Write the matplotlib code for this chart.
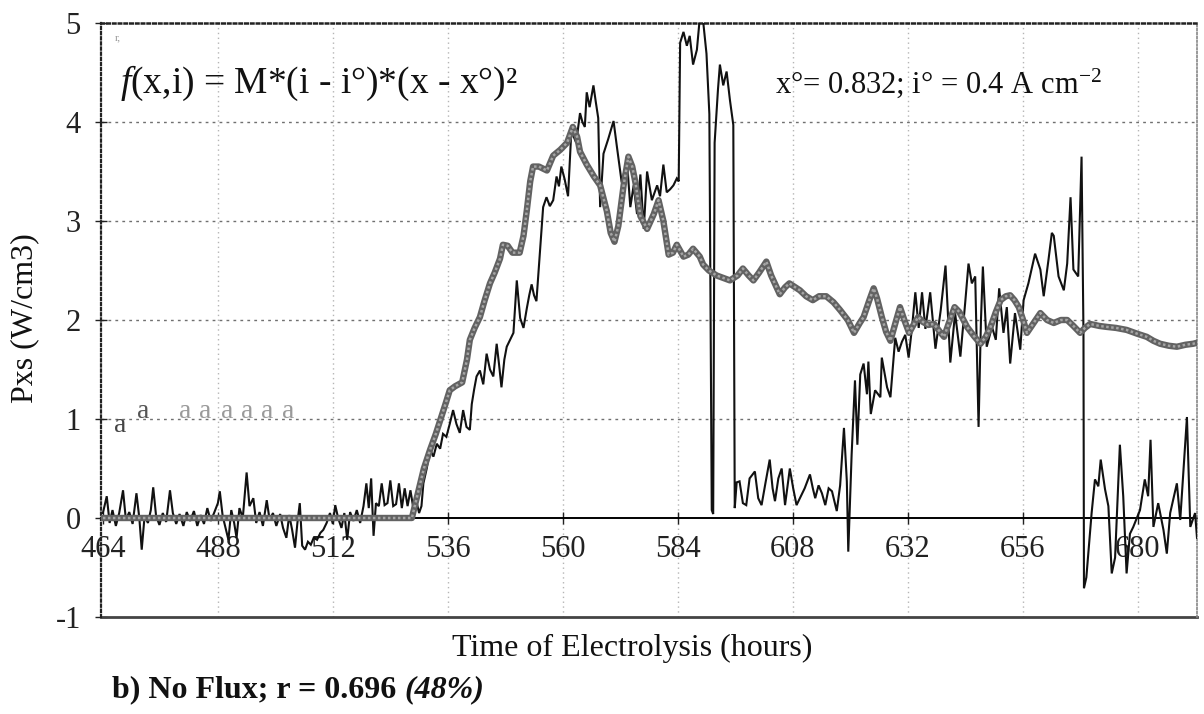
import matplotlib
matplotlib.use("Agg")
import matplotlib.pyplot as plt

plt.rcParams['font.family'] = ['Liberation Serif', 'DejaVu Serif']
plt.rcParams['mathtext.fontset'] = 'custom'
plt.rcParams['mathtext.rm'] = 'Liberation Serif'
plt.rcParams['mathtext.it'] = 'Liberation Serif:italic'

# ---------------- data ----------------
x_ticks = [464, 488, 512, 536, 560, 584, 608, 632, 656, 680]
y_ticks = [-1, 0, 1, 2, 3, 4, 5]

# measured excess power (black, noisy)
meas_t = [464.0, 464.8, 465.4, 466.0, 466.7, 467.4, 468.2, 468.8, 469.5, 470.2, 471.0, 471.6,
          472.1, 472.7, 473.4, 474.0, 474.5, 475.1, 475.8, 476.5, 477.2, 478.0, 478.6, 479.3,
          480.0, 480.8, 481.5, 482.2, 483.0, 483.7, 484.4, 485.1, 485.8, 486.5, 487.2, 488.0,
          488.4, 489.0, 489.6, 490.2, 490.8, 491.4, 491.9, 492.5, 493.2, 494.0, 494.6, 495.4,
          496.0, 496.7, 497.4, 498.2, 498.8, 499.5, 500.2, 501.0, 501.6, 502.3, 502.9, 503.5,
          504.1, 504.6, 505.1, 505.6, 506.2, 506.8, 507.4, 508.0, 508.7, 509.4, 510.0, 510.7,
          511.4, 512.0, 512.5, 513.1, 513.8, 514.4, 515.0, 515.6, 516.3, 517.0, 517.7, 518.4,
          519.0, 519.5, 520.0, 520.5, 521.0, 521.6, 522.2, 522.8, 523.4, 524.0, 524.6, 525.2,
          525.8, 526.4, 527.0, 527.6, 528.2, 528.8, 529.4, 530.0, 530.5, 530.9, 531.6, 532.3,
          533.0, 533.7, 534.4, 535.0, 535.7, 536.4, 537.1, 537.8, 538.5, 539.2, 539.9, 540.6,
          541.0, 541.5, 542.0, 542.7, 543.4, 544.1, 544.8, 545.5, 546.2, 546.7, 547.2, 547.8,
          548.3, 549.0, 549.7, 550.4, 551.1, 551.8, 552.5, 553.0, 553.5, 554.0, 554.5, 555.2,
          555.9, 556.6, 557.3, 558.0, 558.7, 559.2, 559.7, 560.4, 561.1, 561.8, 562.3, 562.8,
          563.6, 564.1, 564.6, 565.0, 565.6, 566.4, 566.9, 567.4, 567.8, 568.5, 569.5, 570.6,
          571.3, 572.3, 573.4, 574.1, 574.8, 575.5, 576.2, 576.9, 577.6, 578.6, 579.7, 580.3,
          581.0, 581.7, 582.4, 583.1, 583.8, 584.2, 584.5, 585.2, 585.9, 586.5, 587.2, 588.0,
          588.6, 589.3, 590.0, 590.6, 591.1, 591.4, 591.7, 592.4, 592.8, 593.5, 594.2, 594.9,
          595.6, 595.9, 596.3, 596.9, 597.6, 598.3, 599.0, 600.1, 600.8, 601.5, 602.3, 603.2,
          603.8, 604.3, 605.0, 605.7, 606.4, 607.4, 608.1, 608.8, 609.5, 610.5, 611.6, 612.2,
          612.7, 613.4, 614.1, 614.8, 615.5, 616.2, 617.2, 617.9, 618.7, 619.3, 619.6, 620.3,
          621.0, 621.5, 622.1, 622.8, 623.5, 623.8, 624.3, 625.2, 626.3, 626.6, 627.7, 628.4,
          629.4, 630.1, 630.8, 631.5, 632.2, 632.9, 633.6, 634.3, 635.0, 635.7, 636.7, 637.8,
          638.9, 639.9, 640.9, 641.9, 643.0, 644.0, 644.7, 645.4, 646.1, 646.8, 647.3, 647.7,
          648.5, 649.6, 650.4, 651.1, 652.0, 652.7, 653.4, 654.4, 655.5, 656.2, 657.2, 658.6,
          659.7, 660.4, 661.4, 662.1, 662.5, 663.5, 664.6, 665.3, 666.0, 666.6, 667.6, 668.3,
          668.7, 668.8, 669.3, 670.4, 671.1, 671.8, 672.3, 673.2, 673.9, 674.6, 675.3, 676.3,
          677.0, 677.7, 678.4, 679.1, 680.5, 681.5, 682.2, 682.7, 683.3, 684.3, 685.4, 686.1,
          686.8, 688.2, 688.9, 690.3, 691.0, 692.0, 692.4]
meas_p = [0.05, 0.22, -0.05, 0.08, -0.08, 0.05, 0.28, -0.02, 0.06, -0.06, 0.25, 0.0,
          -0.32, 0.02, -0.05, 0.08, 0.31, 0.02, -0.07, 0.05, -0.04, 0.28, 0.05, -0.06,
          0.04, -0.08, 0.06, -0.03, 0.07, -0.08, 0.03, -0.06, 0.10, -0.03, 0.05, 0.15,
          0.27, 0.02, -0.10, -0.22, 0.08, -0.05, -0.20, 0.10, 0.0, 0.46, 0.12, 0.20,
          -0.05, 0.06, -0.08, 0.18, -0.02, 0.05, -0.08, 0.04, -0.10, -0.20, 0.03, -0.12,
          -0.30, -0.05, 0.15, -0.28, -0.32, -0.24, -0.27, -0.20, -0.22, -0.15, -0.12, -0.05,
          0.05, -0.06, 0.13, 0.0, -0.10, 0.05, -0.22, 0.06, -0.03, 0.08, -0.05, 0.12,
          0.35, 0.10, 0.40, -0.18, 0.15, 0.12, 0.35, 0.13, 0.15, 0.38, 0.12, 0.14,
          0.35, 0.10, 0.30, 0.12, 0.28, 0.10, 0.18, 0.05, 0.12, 0.35, 0.50, 0.69,
          0.62, 0.75, 0.70, 0.85, 0.82, 0.95, 1.09, 0.95, 0.86, 1.09, 0.92, 0.89,
          1.15, 1.30, 1.43, 1.49, 1.35, 1.66, 1.50, 1.43, 1.76, 1.55, 1.32, 1.60,
          1.73, 1.80, 1.87, 2.40, 2.02, 1.92, 2.12, 2.25, 2.36, 2.25, 2.19, 2.67,
          3.14, 3.24, 3.15, 3.21, 3.45, 3.35, 3.55, 3.42, 3.25, 3.92, 3.85, 3.79,
          4.09, 4.00, 3.95, 4.30, 4.15, 4.37, 4.20, 4.04, 3.14, 3.68, 3.83, 4.01,
          3.75, 3.39, 3.61, 3.14, 3.36, 3.07, 3.47, 2.92, 3.50, 3.21, 3.36, 3.25,
          3.57, 3.29, 3.32, 3.36, 3.43, 3.40, 4.80, 4.91, 4.77, 4.87, 4.58, 4.73,
          5.05, 5.02, 4.69, 4.08, 0.08, 0.04, 3.79, 4.33, 4.58, 4.37, 4.51, 4.22,
          3.97, 0.10, 0.36, 0.37, 0.15, 0.13, 0.40, 0.47, 0.20, 0.13, 0.35, 0.59,
          0.30, 0.17, 0.40, 0.50, 0.13, 0.50, 0.30, 0.13, 0.20, 0.30, 0.44, 0.30,
          0.20, 0.33, 0.25, 0.13, 0.30, 0.27, 0.07, 0.33, 0.91, 0.37, -0.34, 0.64,
          1.39, 0.74, 1.45, 1.56, 1.25, 1.58, 1.05, 1.29, 1.22, 1.62, 1.32, 1.22,
          1.82, 1.68, 1.78, 1.85, 1.62, 1.92, 2.28, 1.92, 2.28, 1.91, 2.28, 1.71,
          2.10, 2.55, 1.57, 2.07, 1.63, 2.17, 2.57, 2.37, 2.44, 0.92, 2.00, 2.54,
          1.73, 1.93, 1.80, 2.32, 1.87, 2.13, 1.56, 2.07, 1.70, 2.20, 2.37, 2.67,
          2.51, 2.24, 2.61, 2.88, 2.85, 2.44, 2.30, 2.57, 3.24, 2.51, 2.44, 3.65,
          1.87, -0.71, -0.60, 0.05, 0.39, 0.32, 0.59, 0.29, 0.12, -0.56, -0.40, 0.74,
          0.22, -0.56, -0.16, -0.09, 0.08, 0.39, 0.22, 0.79, -0.09, 0.15, -0.12, -0.36,
          0.05, 0.35, -0.02, 1.02, -0.09, 0.05, -0.20]

# model f(x,i) (thick grey)
model_t = [464.0, 528.5, 530.0, 531.0, 532.3, 533.5, 534.5, 535.5, 536.4, 537.5, 539.0, 540.0,
           540.6, 541.6, 542.7, 543.7, 544.8, 545.8, 546.9, 547.5, 548.5, 549.5, 551.0, 551.8,
           552.5, 553.2, 553.8, 555.0, 556.7, 558.0, 559.5, 560.9, 562.1, 563.0, 563.6, 565.0,
           566.5, 567.8, 569.2, 570.0, 570.8, 571.6, 572.7, 573.7, 574.5, 575.2, 576.2, 577.6,
           579.0, 580.0, 581.0, 582.1, 583.0, 583.8, 585.2, 586.2, 587.2, 588.6, 589.3, 590.5,
           592.1, 594.9, 596.5, 597.6, 598.8, 599.8, 601.0, 602.5, 603.5, 605.3, 606.4, 607.3,
           609.5, 610.8, 612.2, 613.5, 615.0, 616.5, 617.9, 619.5, 620.8, 622.0, 622.8, 624.0,
           624.9, 625.6, 626.6, 627.5, 628.4, 629.5, 630.4, 631.3, 632.3, 633.2, 634.2, 635.2,
           636.3, 637.5, 638.9, 639.6, 640.6, 641.8, 642.8, 644.4, 645.8, 647.2, 648.3, 649.3,
           650.4, 651.4, 652.5, 653.4, 654.3, 655.2, 656.1, 656.9, 658.3, 659.7, 661.1, 662.5,
           664.0, 665.3, 666.6, 668.0, 669.0, 670.1, 672.0, 673.6, 675.5, 677.7, 680.0, 681.9,
           683.3, 684.7, 686.5, 688.2, 690.0, 691.6, 692.4]
model_p = [0.0, 0.0, 0.30, 0.50, 0.69, 0.85, 1.00, 1.15, 1.29, 1.33, 1.37, 1.60,
           1.80, 1.92, 2.03, 2.20, 2.37, 2.48, 2.62, 2.76, 2.75, 2.68, 2.68, 2.85,
           3.11, 3.40, 3.55, 3.55, 3.51, 3.66, 3.72, 3.79, 3.95, 3.85, 3.70, 3.57,
           3.45, 3.36, 3.10, 2.88, 2.79, 2.95, 3.36, 3.65, 3.55, 3.38, 3.05, 2.92,
           3.07, 3.21, 3.00, 2.66, 2.68, 2.76, 2.64, 2.66, 2.72, 2.64, 2.56, 2.50,
           2.45, 2.40, 2.45, 2.52, 2.45, 2.40, 2.48, 2.59, 2.45, 2.26, 2.33, 2.37,
           2.30, 2.24, 2.20, 2.24, 2.24, 2.18, 2.10, 2.00, 1.87, 1.97, 2.03, 2.20,
           2.32, 2.22, 2.03, 1.88, 1.79, 1.98, 2.13, 2.00, 1.87, 1.95, 2.03, 1.98,
           1.95, 1.96, 1.87, 1.83, 1.97, 2.13, 2.08, 1.93, 1.84, 1.76, 1.83, 1.93,
           2.08, 2.20, 2.24, 2.25, 2.20, 2.13, 2.00, 1.87, 1.97, 2.07, 2.00, 1.97,
           2.00, 2.00, 1.94, 1.87, 1.92, 1.96, 1.94, 1.93, 1.92, 1.90, 1.86, 1.83,
           1.79, 1.76, 1.74, 1.73, 1.75, 1.76, 1.77]

# ---------------- figure ----------------
W, H = 1204, 714
fig = plt.figure(figsize=(W / 100, H / 100), dpi=100)
ax = fig.add_axes([101 / W, 1 - 617 / H, (1197 - 101) / W, (617 - 23) / H])
ax.set_xlim(463.6, 692.4)
ax.set_ylim(-1, 5)

# grid
for xt in x_ticks[1:]:
    ax.axvline(xt, color='#b5b5b5', lw=1.0, ls=(0, (1, 2.5)), zorder=1)
for yt in y_ticks[2:-1]:
    ax.axhline(yt, color='#707070', lw=1.0, ls=(0, (2, 3)), zorder=1)

# spines
ax.spines['bottom'].set_position(('data', 0))
ax.spines['bottom'].set_color('black')
ax.spines['bottom'].set_linewidth(1.4)
ax.spines['bottom'].set_zorder(2)
ax.spines['top'].set_linestyle((0, (1, 1.3)))
ax.spines['top'].set_linewidth(1.8)
ax.spines['top'].set_color('#222222')
ax.spines['left'].set_linestyle((0, (1, 1.3)))
ax.spines['left'].set_linewidth(1.6)
ax.spines['left'].set_color('#222222')
ax.spines['right'].set_linestyle((0, (1, 1.3)))
ax.spines['right'].set_linewidth(1.2)
ax.spines['right'].set_color('#888888')
ax.axhline(-1, color='#444444', lw=2.0, zorder=2, clip_on=False)

ax.set_xticks(x_ticks)
ax.set_xticklabels([str(v) for v in x_ticks])
ax.set_yticks(y_ticks)
ax.set_yticklabels([str(v) for v in y_ticks])
ax.tick_params(axis='x', direction='inout', length=8, width=1.0, pad=8,
               labelsize=22, colors='#222222')
ax.tick_params(axis='y', direction='inout', length=9, width=1.0, pad=10,
               labelsize=22, colors='#222222')

# series
ax.plot(meas_t, meas_p, color='#111111', lw=1.5, zorder=3, solid_joinstyle='miter')
ax.plot(model_t, model_p, color='#626262', lw=4.6, zorder=4)
ax.plot(model_t, model_p, color='#a5a5a5', lw=1.8, zorder=5, ls=(0, (1, 1)))

# texts
fig.text(120 / W, 1 - 83 / H, r'$f$(x,i) = M*(i - i°)*(x - x°)²', fontsize=27,
         ha='left', va='center', color='#111111')
fig.text(775 / W, 1 - 83 / H, r'x°= 0.832; i° = 0.4 A cm$^{\mathrm{-2}}$', fontsize=22,
         ha='left', va='center', color='#111111')
fig.text(115 / W, 1 - 38 / H, 'r,', fontsize=8, color='#999999', ha='left', va='center')

fig.text(120 / W, 1 - 425 / H, 'a', fontsize=20, color='#444444', ha='center', va='center')
fig.text(143 / W, 1 - 412 / H, 'a', fontsize=20, color='#555555', ha='center', va='center')
for px in [185, 205, 227, 247, 267, 288]:
    fig.text(px / W, 1 - 412 / H, 'a', fontsize=20, color='#9a9a9a', ha='center', va='center')

fig.text(25 / W, 1 - 318 / H, 'Pxs (W/cm3)', fontsize=23, rotation=90,
         ha='center', va='center', color='#111111')
fig.text(632 / W, 1 - 648 / H, 'Time of Electrolysis (hours)', fontsize=23,
         ha='center', va='center', color='#111111')

cap = fig.text(112 / W, 1 - 690 / H, 'b) No Flux; r = 0.696 ', fontsize=23,
               fontweight='bold', ha='left', va='center', color='#111111')
ax.annotate('(48%)', xy=(1, 0.5), xycoords=cap, ha='left', va='center',
            fontsize=23, fontweight='bold', fontstyle='italic', color='#111111',
            annotation_clip=False)

fig.savefig('out.png', dpi=100)
